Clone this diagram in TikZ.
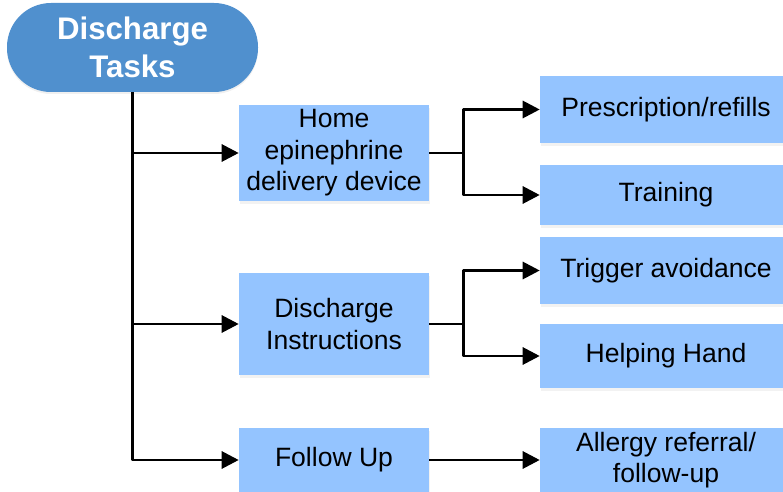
\documentclass[tikz,border=0pt]{standalone}
\usepackage{fontspec}
\setmainfont{Liberation Sans}
\usetikzlibrary{arrows.meta,shadows}
\definecolor{rootblue}{RGB}{80,144,206}
\definecolor{boxblue}{RGB}{148,196,255}
\tikzset{
  taskbox/.style={fill=boxblue, inner sep=0pt, align=center,
    font=\fontsize{19.9}{23.6}\selectfont,
    drop shadow={opacity=0.1, shadow xshift=1pt, shadow yshift=-2pt}},
  link/.style={line width=2.2pt, -{Triangle[length=12.75pt,width=12.75pt]}}
}
\begin{document}
\begin{tikzpicture}[x=0.75pt, y=-0.75pt, line join=round]
	\def\mw{142.5pt} % 190 px
	\def\rw{189pt} % 252 px, runs past the right edge
	\useasboundingbox (0,0) rectangle (783,492);
	% root
	\node[fill=rootblue, text=white, rounded corners=33pt, minimum width=188.25pt,
	  minimum height=66.75pt, inner sep=0pt, align=center,
	  font=\fontsize{23.4}{28.5}\selectfont\bfseries,
	  drop shadow={opacity=0.12, shadow xshift=0pt, shadow yshift=-1.5pt}]
	  (root) at (132.5,47.5) {Discharge\\Tasks};
	% middle column
	\node[taskbox, minimum width=\mw, minimum height=72pt] (home) at (334,153) {Home\\epinephrine\\delivery device};
	\node[taskbox, minimum width=\mw, minimum height=76.5pt] (instr) at (334,324) {Discharge\\Instructions};
	\node[taskbox, minimum width=\mw, minimum height=48pt] (follow) at (334,460) {Follow Up};
	% right column
	\node[taskbox, minimum width=\rw, minimum height=50.25pt] (presc) at (666,109.5) {Prescription/refills};
	\node[taskbox, minimum width=\rw, minimum height=45pt] (train) at (666,195) {Training};
	\node[taskbox, minimum width=\rw, minimum height=50.25pt] (trigger) at (666,270.5) {Trigger avoidance};
	\node[taskbox, minimum width=\rw, minimum height=48pt] (helping) at (666,356) {Helping Hand};
	\node[taskbox, minimum width=\rw, minimum height=48pt] (allergy) at (666,460) {Allergy referral/\\follow-up};
	% connectors
	\draw[link] (root.south) |- (home.west);
	\draw[link] (root.south) |- (instr.west);
	\draw[link] (root.south) |- (follow.west);
	\draw[link] (home.east) -- ++(34,0) |- (presc.west);
	\draw[link] (home.east) -- ++(34,0) |- (train.west);
	\draw[link] (instr.east) -- ++(34,0) |- (trigger.west);
	\draw[link] (instr.east) -- ++(34,0) |- (helping.west);
	\draw[link] (follow.east) -- (allergy.west);
\end{tikzpicture}
\end{document}
